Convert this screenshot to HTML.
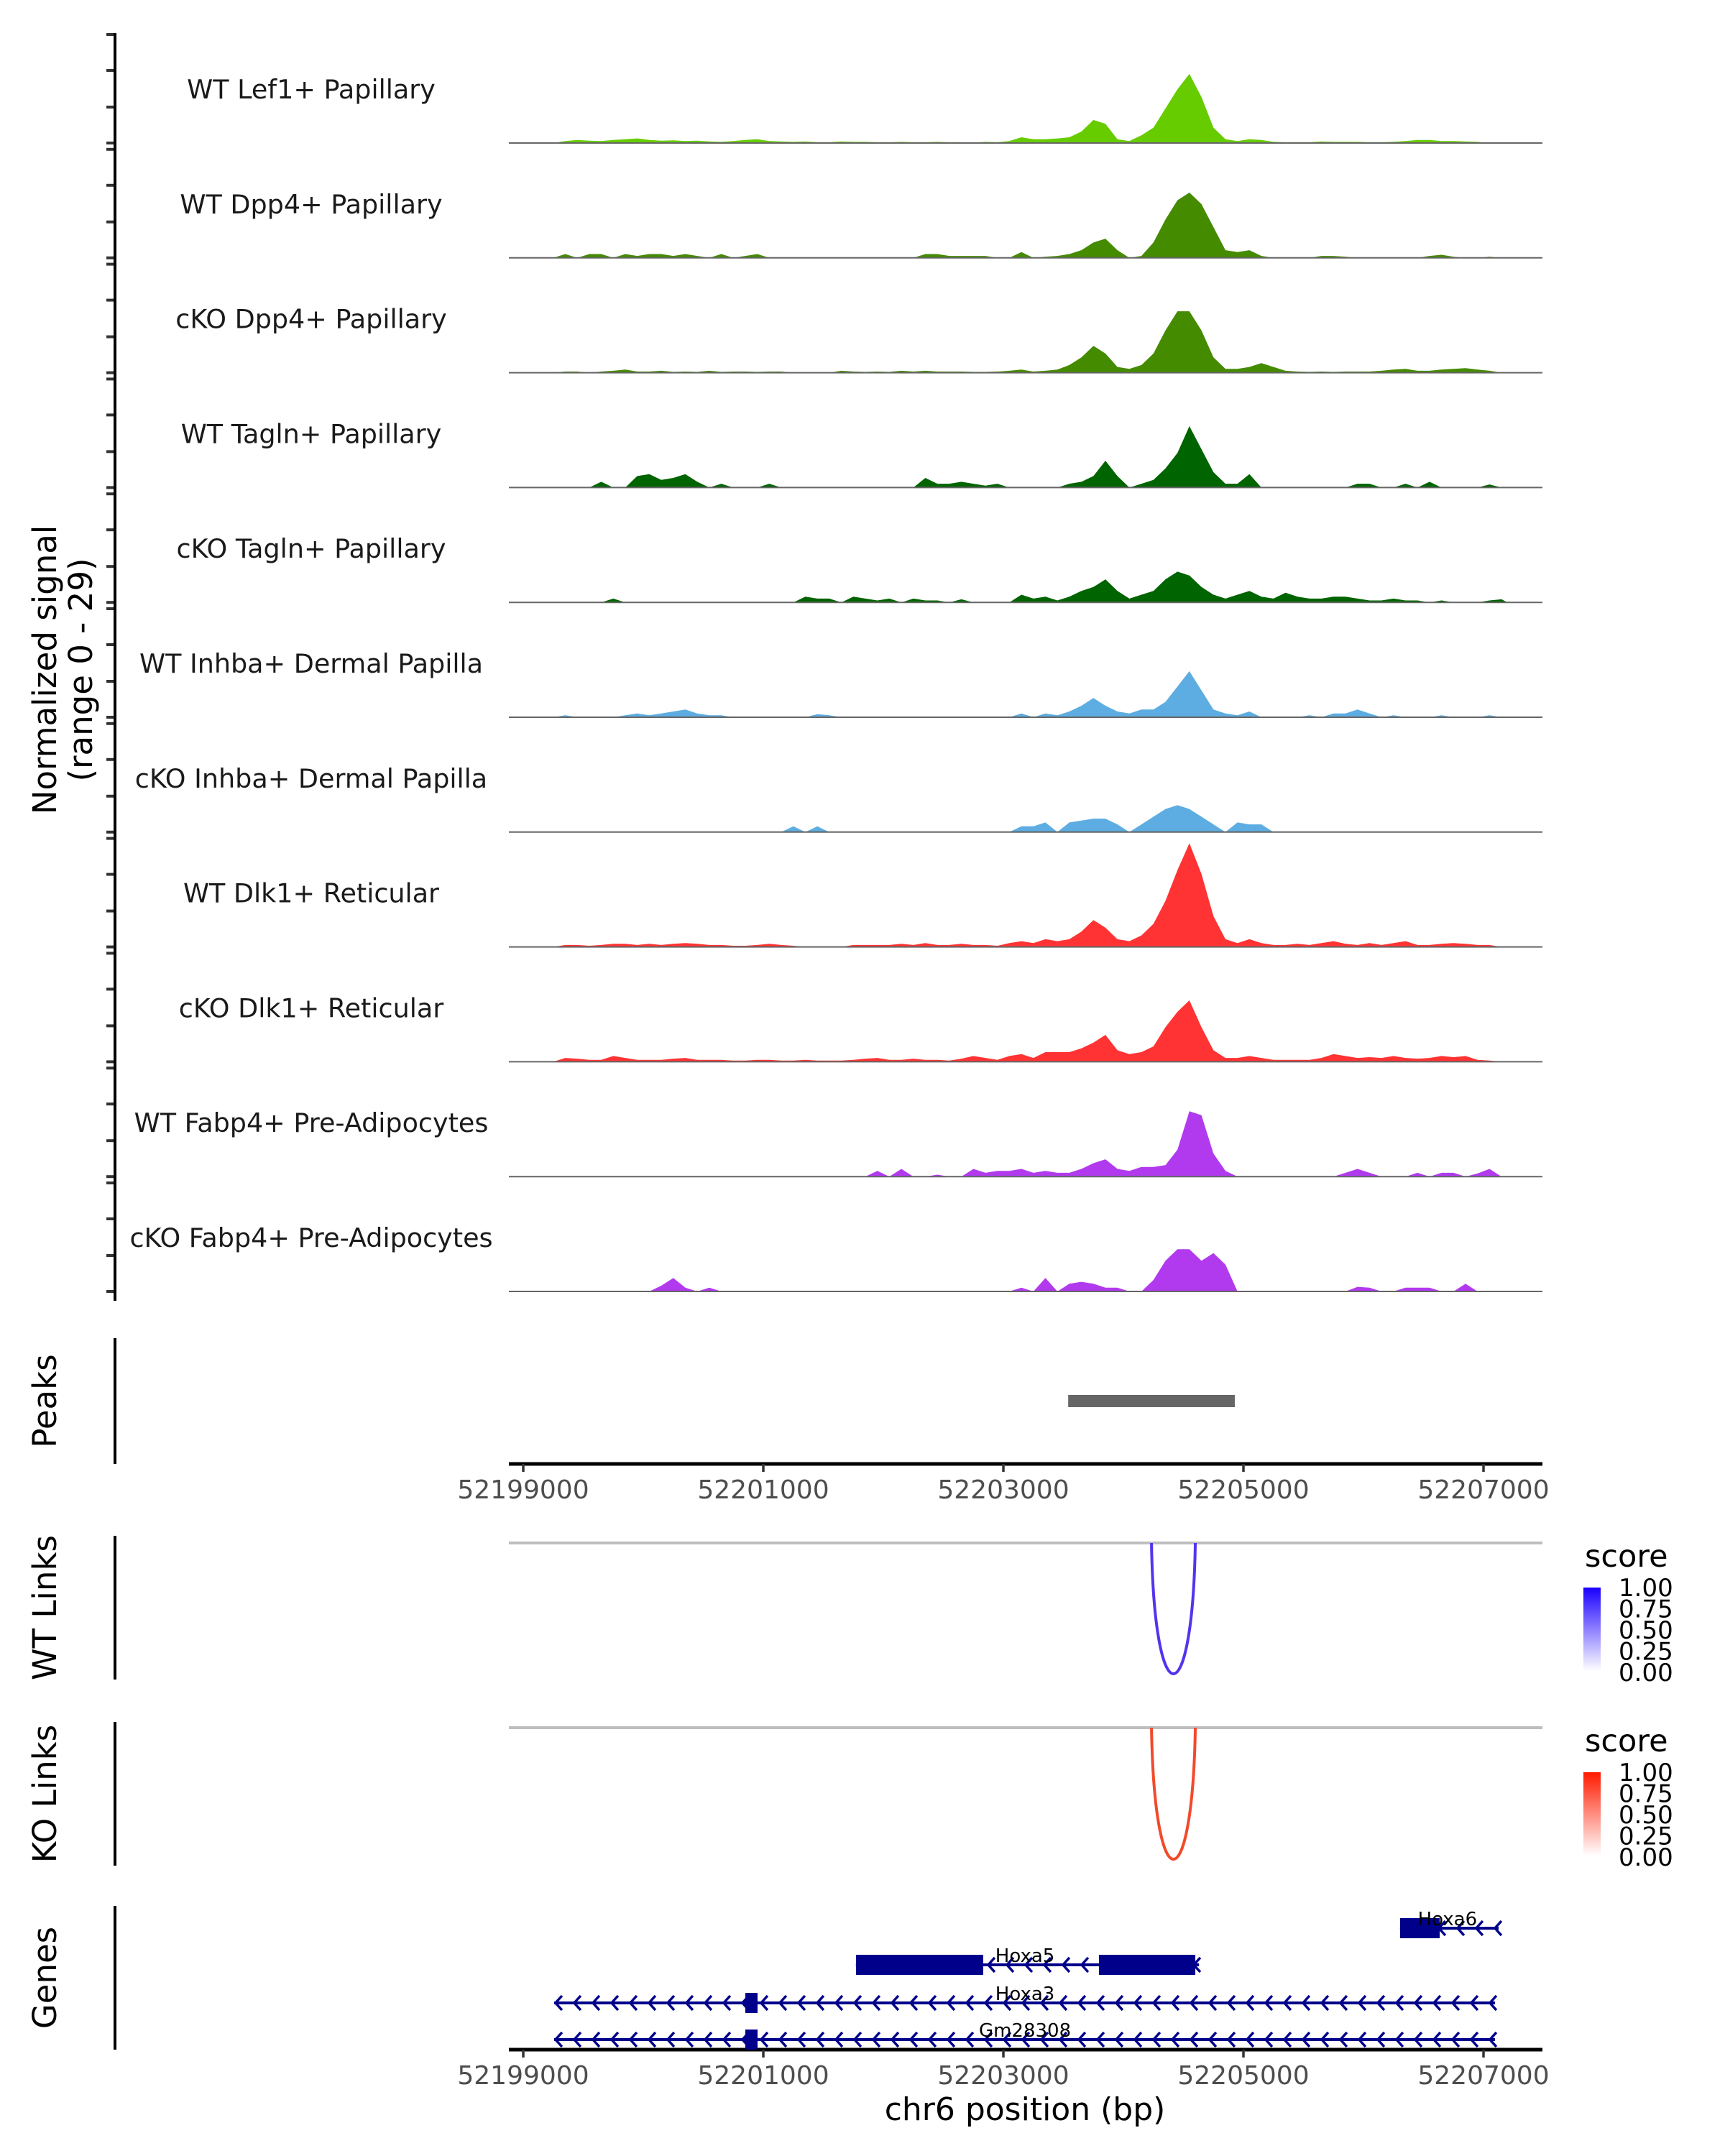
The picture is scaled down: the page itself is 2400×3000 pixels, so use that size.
<!DOCTYPE html>
<html><head><meta charset="utf-8"><style>
html,body{margin:0;padding:0;background:#fff;width:2400px;height:3000px;overflow:hidden}
svg{display:block}
text{font-family:"DejaVu Sans","Liberation Sans",sans-serif}
</style></head><body>
<svg id="chart" width="2400" height="3000" viewBox="0 0 2400 3000" xmlns="http://www.w3.org/2000/svg">
<defs>
<linearGradient id="gb" x1="0" y1="1" x2="0" y2="0"><stop offset="0" stop-color="#ffffff"/><stop offset="1" stop-color="#1a00ff"/></linearGradient>
<linearGradient id="gr" x1="0" y1="1" x2="0" y2="0"><stop offset="0" stop-color="#ffffff"/><stop offset="1" stop-color="#ff1a00"/></linearGradient>
</defs>
<g id="tracks"></g>
<g id="static"></g>
</svg>
<script>
const trackNames=["WT Lef1+ Papillary","WT Dpp4+ Papillary","cKO Dpp4+ Papillary","WT Tagln+ Papillary","cKO Tagln+ Papillary","WT Inhba+ Dermal Papilla","cKO Inhba+ Dermal Papilla","WT Dlk1+ Reticular","cKO Dlk1+ Reticular","WT Fabp4+ Pre-Adipocytes","cKO Fabp4+ Pre-Adipocytes"];
const trackColors=["#66cc00","#458b00","#458b00","#006400","#006400","#5dade2","#5dade2","#ff3333","#ff3333","#b23aee","#b23aee"];
const binStart=52199200;
const binSize=100;
const sLef1=[0,0.5,0.8,0.6,0.5,0.8,1,1.2,0.8,0.6,0.7,0.5,0.6,0.4,0.3,0.5,0.8,1,0.5,0.4,0.3,0.4,0.2,0.2,0.4,0.3,0.3,0.2,0.2,0.3,0.2,0.2,0.3,0.2,0.2,0.1,0.3,0.2,0.5,1.5,1,1,1.2,1.5,3,6,5,1,0.5,2,4,9,14,18,12,4,1,0.5,1,0.8,0.3,0.2,0.2,0.2,0.4,0.3,0.3,0.3,0.2,0.2,0.3,0.5,0.8,0.8,0.5,0.5,0.4,0.3,0,0];
const sDpp4WT=[0,1,0,1,1,0,1,0.5,1,1,0.5,1,0.5,0,1,0,0.5,1,0,0,0,0,0,0,0,0,0,0,0,0,0,1,1,0.5,0.5,0.5,0.5,0,0,1.5,0,0.3,0.5,1,2,4,5,2,0,0.5,4,10,15,17,14,8,2,1.5,2,0.5,0,0,0,0,0.5,0.5,0.3,0,0,0,0,0,0,0.5,0.8,0.3,0,0,0.3,0];
const sDpp4KO=[0,0.3,0.3,0,0.3,0.5,0.8,0.3,0.3,0.5,0.2,0.3,0.2,0.5,0.2,0.3,0.3,0.2,0.3,0.3,0,0,0,0,0.5,0.3,0.2,0.3,0.2,0.5,0.3,0.5,0.3,0.3,0.3,0.2,0.2,0.3,0.5,0.8,0.3,0.5,0.8,2,4,7,5,1.5,1,2,5,11,16,16,11,4,1,1,1.5,2.5,1.5,0.5,0.3,0.2,0.3,0.2,0.3,0.3,0.3,0.5,0.8,1,0.5,0.5,0.8,1,1.2,0.8,0.5,0];
const sTaglnWT=[0,0,0,0,1.5,0,0,3,3.5,2,2.5,3.5,1.5,0,1,0,0,0,1,0,0,0,0,0,0,0,0,0,0,0,0,2.5,1,1,1.5,1,0.5,1,0,0,0,0,0,1,1.5,3,7,3,0,1,2,5,9,16,10,4,1,1,3.5,0,0,0,0,0,0,0,0,1,1,0,0,1,0,1.5,0,0,0,0,0.8,0];
const sTaglnKO=[0,0,0,0,0,1,0,0,0,0,0,0,0,0,0,0,0,0,0,0,0,1.5,1,1,0,1.5,1,0.5,1,0,1,0.5,0.5,0,0.8,0,0,0,0,2,1,1.5,0.5,1.5,3,4,6,3,1,2,3,6,8,7,4,2,1,2,3,1.5,1,2.5,1.5,1,1,1.5,1.5,1,0.5,0.5,1,0.5,0.5,0,0.5,0,0,0,0.5,0.8];
const sInhbaWT=[0,0.5,0,0,0,0,0.5,1,0.5,1,1.5,2,1,0.5,0.5,0,0,0,0,0,0,0,0.8,0.5,0,0,0,0,0,0,0,0,0,0,0,0,0,0,0,1,0,1,0.5,1.5,3,5,3,1.5,1,2,2,4,8,12,7,2,1,0.5,1.5,0,0,0,0,0.5,0,1,1,2,1,0,0.5,0,0,0,0.5,0,0,0,0.5,0];
const sInhbaKO=[0,0,0,0,0,0,0,0,0,0,0,0,0,0,0,0,0,0,0,0,1.5,0,1.5,0,0,0,0,0,0,0,0,0,0,0,0,0,0,0,0,1.5,1.5,2.5,0,2.5,3,3.5,3.5,2,0,2,4,6,7,6,4,2,0,2.5,2,2,0,0,0,0,0,0,0,0,0,0,0,0,0,0,0,0,0,0,0,0];
const sDlk1WT=[0,0.5,0.5,0.3,0.5,0.8,0.8,0.5,0.8,0.5,0.8,1,0.8,0.5,0.5,0.3,0.3,0.5,0.8,0.5,0.3,0,0,0,0,0.5,0.5,0.5,0.5,0.8,0.5,1,0.5,0.5,0.8,0.5,0.5,0.3,1,1.5,1,2,1.5,2,4,7,5,2,1.5,3,6,12,20,27,19,8,2,1,2,1,0.5,0.5,0.8,0.5,1,1.5,0.8,0.5,1,0.5,1,1.5,0.5,0.5,0.8,1,0.8,0.5,0.5,0];
const sDlk1KO=[0,1,0.8,0.5,0.5,1.5,1,0.5,0.5,0.5,0.8,1,0.5,0.5,0.5,0.3,0.3,0.5,0.5,0.3,0.3,0.5,0.3,0.3,0.3,0.5,0.8,1,0.5,0.5,0.8,0.5,0.5,0.3,0.8,1.5,1,0.5,1.5,2,1,2.5,2.5,2.5,3.5,5,7,3,2,2.5,4,9,13,16,9,3,1,1,1.5,1,0.5,0.5,0.5,0.5,1,2,1.5,1,1.2,1,1.5,1,0.8,1,1.5,1.2,1.5,0.5,0.3,0];
const sFabp4WT=[0,0,0,0,0,0,0,0,0,0,0,0,0,0,0,0,0,0,0,0,0,0,0,0,0,0,0,1.5,0,2,0,0,0.5,0,0,2,1,1.5,1.5,2,1,1.5,1,1,2,3.5,4.5,2,1.5,2.5,2.5,3,7,17,16,6,1.5,0,0,0,0,0,0,0,0,0,1,2,1,0,0,0,1,0,1,1,0,0.8,2,0];
const sFabp4KO=[0,0,0,0,0,0,0,0,0,1.5,3.5,1,0,1,0,0,0,0,0,0,0,0,0,0,0,0,0,0,0,0,0,0,0,0,0,0,0,0,0,1,0,3.5,0,2,2.5,2,1,1,0,0,3,8,11,11,8,10,7,0,0,0,0,0,0,0,0,0,0,1.2,1,0,0,1,1,1,0,0,2,0,0,0];
const signals=[sLef1,sDpp4WT,sDpp4KO,sTaglnWT,sTaglnKO,sInhbaWT,sInhbaKO,sDlk1WT,sDlk1KO,sFabp4WT,sFabp4KO];
const yMax=29;
const axisTicks=[52199000,52201000,52203000,52205000,52207000];
const peakStart=52203540;
const peakEnd=52204928;
const wtLinkFrom=52204234;
const wtLinkTo=52204599;
const koLinkFrom=52204234;
const koLinkTo=52204599;
const legendTicks=["1.00","0.75","0.50","0.25","0.00"];
const geneNames=["Hoxa6","Hoxa5","Hoxa3","Gm28308"];
const geneStarts=[52206305,52201772,52199257,52199257];
const geneEnds=[52207126,52204630,52207096,52207096];
const geneExonStarts=[[52206305],[52201772,52203796],[52200850],[52200850]];
const geneExonEnds=[[52206635],[52202832,52204599],[52200952],[52200952]];
const geneLabelPos=[52206700,52203180,52203180,52203180];

const NS="http://www.w3.org/2000/svg";
const PX0=708, PX1=2146;
function X(bp){return 728+(bp-52199000)*0.167;}
const baseTop=199, trackStep=159.8, trackH=155;
function mk(tag,attrs,parent){const e=document.createElementNS(NS,tag);for(const k in attrs)e.setAttribute(k,attrs[k]);parent.appendChild(e);return e;}
const tg=document.getElementById('tracks');
const sg=document.getElementById('static');

signals.forEach((arr,t)=>{
  const base=baseTop+t*trackStep;
  const Y=v=>base-v/yMax*trackH;
  let d="M"+X(binStart).toFixed(1)+","+base;
  arr.forEach((v,i)=>{const xc=X(binStart+i*binSize+binSize/2);d+=" L"+xc.toFixed(1)+","+Y(v).toFixed(1);});
  d+=" L"+X(binStart+arr.length*binSize).toFixed(1)+","+base+" Z";
  const p=mk('path',{d:d,fill:trackColors[t],stroke:'none'},tg);
  
  
  const l=mk('line',{x1:PX0,x2:PX1,y1:base,y2:base,stroke:'#666','stroke-width':2},tg);
  
  
  const tx=mk('text',{x:433,y:base-62,'text-anchor':'middle','font-size':36.5,fill:'#1a1a1a'},tg);
  tx.textContent=trackNames[t];
  
  
  [0,50,101,151].forEach(o=>{const tk=mk('line',{x1:148,x2:160,y1:base-o,y2:base-o,stroke:'#333','stroke-width':4},tg);
    
    });
});
let ya=mk('line',{x1:160,x2:160,y1:46,y2:1810,stroke:'#000','stroke-width':4},sg);


let yt=mk('text',{transform:'translate(78,932) rotate(-90)','text-anchor':'middle','font-size':45,fill:'#000'},sg);
yt.textContent='Normalized signal';


let yt2=mk('text',{transform:'translate(128,932) rotate(-90)','text-anchor':'middle','font-size':45,fill:'#000'},sg);
yt2.textContent='(range 0 - 29)';



function panelAxis(name,y1,y2,label){
  const l=mk('line',{x1:160,x2:160,y1:y1,y2:y2,stroke:'#000','stroke-width':4},sg);
  
  
  const t=mk('text',{transform:'translate(78,'+((y1+y2)/2)+') rotate(-90)','text-anchor':'middle','font-size':45,fill:'#000'},sg);
  t.textContent=label;
  
  
}
panelAxis('peaks',1862,2037,'Peaks');
panelAxis('wt-links',2137,2337,'WT Links');
panelAxis('ko-links',2396,2596,'KO Links');
panelAxis('genes',2652,2852,'Genes');

let pk=mk('rect',{x:X(peakStart),y:1941,width:X(peakEnd)-X(peakStart),height:17,fill:'#666666'},sg);



function xAxis(name,y){
  const l=mk('line',{x1:PX0,x2:PX1,y1:y,y2:y,stroke:'#000','stroke-width':5},sg);
  
  
  axisTicks.forEach(v=>{
    const tk=mk('line',{x1:X(v),x2:X(v),y1:y,y2:y+11,stroke:'#333','stroke-width':3.5},sg);
    
    
    const t=mk('text',{x:X(v),y:y+48,'text-anchor':'middle','font-size':36,fill:'#4d4d4d'},sg);
    t.textContent=v;
    
    
  });
}
xAxis('peaks-x-axis',2037);
xAxis('genes-x-axis',2852);
let xt=mk('text',{x:1426,y:2950,'text-anchor':'middle','font-size':44,fill:'#000'},sg);
xt.textContent='chr6 position (bp)';



function links(name,top,bottom,from,to,color,grad,legY){
  const g=mk('line',{x1:PX0,x2:PX1,y1:top,y2:top,stroke:'#bebebe','stroke-width':4},sg);
  
  
  const a=X(from),b=X(to),c=top+(bottom-top)/0.75;
  const arc=mk('path',{d:'M'+a+','+top+' C'+(a+4)+','+c+' '+(b-4)+','+c+' '+b+','+top,fill:'none',stroke:color,'stroke-width':4},sg);
  
  
  const st=mk('text',{x:2205,y:legY,'font-size':43,fill:'#000'},sg);
  st.textContent='score';
  
  
  const bar=mk('rect',{x:2203,y:legY+29,width:24,height:116,fill:'url(#'+grad+')'},sg);
  
  
  legendTicks.forEach((s,i)=>{
    const t=mk('text',{x:2252,y:legY+41+i*29.5,'font-size':34,fill:'#000'},sg);
    t.textContent=s;
    
    
  });
}
links('wt-links',2147,2329,wtLinkFrom,wtLinkTo,'#5533ee','gb',2180);
links('ko-links',2404,2587,koLinkFrom,koLinkTo,'#f24a2c','gr',2437);

const geneY=[2683,2734,2787,2838];
geneNames.forEach((n,i)=>{
  const y=geneY[i], a=X(geneStarts[i]), b=X(geneEnds[i]);
  const l=mk('line',{x1:a,x2:b,y1:y,y2:y,stroke:'#00008b','stroke-width':4},sg);
  
  
  for(let x=a+2;x<b-4;x+=26){
    const c=mk('path',{d:'M'+(x+9)+','+(y-10)+' L'+x+','+y+' L'+(x+9)+','+(y+10),fill:'none',stroke:'#00008b','stroke-width':3.5},sg);
    
    
  }
  geneExonStarts[i].forEach((s,j)=>{
    const e=mk('rect',{x:X(s),y:y-14,width:X(geneExonEnds[i][j])-X(s),height:28,fill:'#00008b'},sg);
    
    
  });
  const t=mk('text',{x:X(geneLabelPos[i]),y:y-4,'text-anchor':'middle','font-size':26,fill:'#000'},sg);
  t.textContent=n;
  
  
});
</script>
</body></html>
